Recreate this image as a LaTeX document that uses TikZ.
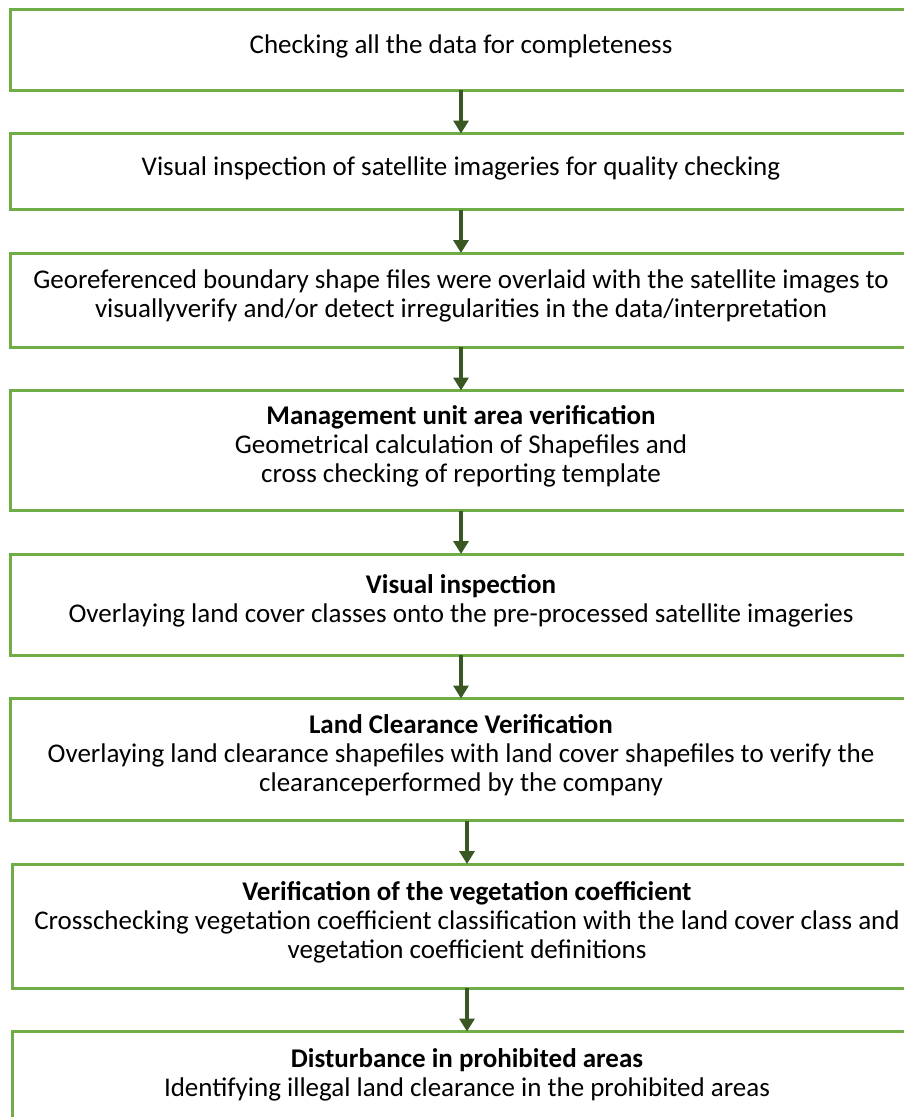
\documentclass[tikz,border=0pt]{standalone}
\usepackage{fontspec}
\setmainfont{Carlito}
\usetikzlibrary{arrows.meta,positioning}
\definecolor{boxgreen}{RGB}{112,173,71}
\definecolor{arrowgreen}{RGB}{56,87,35}

\begin{document}
\begin{tikzpicture}[    font=\fontsize{27}{29}\selectfont,
    >={Triangle[width=15pt,length=13pt]},
    node distance=43.5pt,
    base/.style={draw=boxgreen, line width=3pt, rectangle, align=center, minimum width=902pt, inner sep=0pt, outer sep=0pt,
      execute at begin node={\rule{0pt}{20pt}}, execute at end node={\rule[-13pt]{0pt}{0pt}}},
    flow/.style={->, draw=arrowgreen, line width=4pt}]

\useasboundingbox (0,0) rectangle (904pt,-1117pt);
\clip (0,0) rectangle (904pt,-1117pt);

\node [base, minimum height=81pt] (chk) at (461pt,-49.5pt) {Checking all the data for completeness};
\node [base, minimum height=76pt] (qual) [below=of chk] {Visual inspection of satellite imageries for quality checking};
\node [base, minimum height=94pt] (geo) [below=of qual] {Georeferenced boundary shape files were overlaid with the satellite images to\\ visuallyverify and/or detect irregularities in the data/interpretation};
\node [base, minimum height=120pt] (mua) [below=of geo] {\textbf{Management unit area verification}\\ Geometrical calculation of Shapefiles and\\ cross checking of reporting template};
\node [base, minimum height=101pt] (vis) [below=of mua] {\textbf{Visual inspection}\\ Overlaying land cover classes onto the pre-processed satellite imageries};
\node [base, minimum height=122pt] (lcv) [below=of vis] {\textbf{Land Clearance Verification}\\ Overlaying land clearance shapefiles with land cover shapefiles to verify the\\ clearanceperformed by the company};
\node [base, minimum height=124pt, minimum width=910pt] (veg) [below=of lcv, xshift=6pt] {\textbf{Verification of the vegetation coefficient}\\ Crosschecking vegetation coefficient classification with the land cover class and\\ vegetation coefficient definitions};
\node [base, minimum height=95pt, minimum width=910pt] (dist) [below=of veg] {\textbf{Disturbance in prohibited areas}\\ Identifying illegal land clearance in the prohibited areas};

\draw [flow] (chk) -- (qual);
\draw [flow] (qual) -- (geo);
\draw [flow] (geo) -- (mua);
\draw [flow] (mua) -- (vis);
\draw [flow] (vis) -- (lcv);
\draw [flow] (lcv.south -| veg) -- (veg.north);
\draw [flow] (veg) -- (dist);

\end{tikzpicture}
\end{document}
